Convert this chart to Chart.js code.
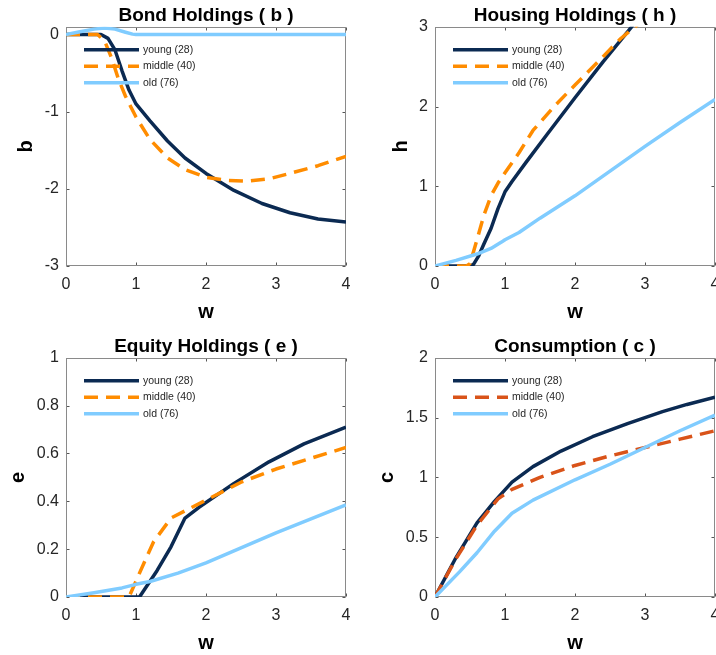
<!DOCTYPE html>
<html>
<head>
<meta charset="utf-8">
<script src="https://cdn.jsdelivr.net/npm/chart.js@4.4.1/dist/chart.umd.min.js"></script>
<style>
  html, body { margin: 0; padding: 0; background: #fff; overflow: hidden; width: 716px; height: 655px; }
  canvas { position: absolute; }
</style>
</head>
<body>
<canvas id="bondChart" width="370" height="330" style="left:0px;top:0px"></canvas>
<canvas id="housingChart" width="370" height="330" style="left:369px;top:0px"></canvas>
<canvas id="equityChart" width="370" height="330" style="left:0px;top:331px"></canvas>
<canvas id="consChart" width="370" height="330" style="left:369px;top:331px"></canvas>
<script>
// labels
let $groups = ['young (28)', 'middle (40)', 'old (76)'];
let $xTicks = [0, 1, 2, 3, 4];

// bond holdings b
let $bondYoungW = [0, 0.25, 0.5, 0.6, 0.7, 0.8, 0.9, 1.0, 1.2, 1.45, 1.7, 2.0, 2.4, 2.8, 3.2, 3.6, 4.0];
let $bondYoung  = [0, 0, 0, -0.05, -0.2, -0.47, -0.72, -0.9, -1.12, -1.38, -1.6, -1.8, -2.02, -2.19, -2.31, -2.39, -2.43];
let $bondMidW = [0, 0.45, 0.55, 0.65, 0.75, 0.85, 1.0, 1.2, 1.45, 1.7, 2.0, 2.3, 2.6, 2.9, 3.2, 3.6, 4.0];
let $bondMid  = [0, 0, -0.08, -0.3, -0.58, -0.8, -1.07, -1.36, -1.6, -1.75, -1.85, -1.89, -1.9, -1.87, -1.8, -1.7, -1.58];
let $bondOldW = [0, 0.2, 0.4, 0.55, 0.7, 0.85, 0.95, 1.0, 4.0];
let $bondOld  = [0, 0.035, 0.07, 0.085, 0.07, 0.03, 0.005, 0, 0];
let $bondTicks = [-3, -2, -1, 0];

// housing holdings h
let $houseYoungW = [0, 0.5, 0.55, 0.62, 0.7, 0.8, 0.9, 1.0, 1.1, 1.3, 1.6, 2.0, 2.4, 2.8, 3.0];
let $houseYoung  = [0, 0, 0.02, 0.12, 0.28, 0.47, 0.72, 0.93, 1.06, 1.3, 1.65, 2.11, 2.56, 2.99, 3.22];
let $houseMidW = [0, 0.45, 0.5, 0.6, 0.7, 0.8, 0.9, 1.0, 1.2, 1.4, 1.7, 2.0, 2.35, 2.65, 2.9, 3.0];
let $houseMid  = [0, 0, 0.03, 0.33, 0.64, 0.88, 1.04, 1.17, 1.42, 1.7, 2.0, 2.27, 2.58, 2.85, 3.03, 3.1];
let $houseOldW = [0, 0.3, 0.6, 0.8, 0.95, 1.0, 1.2, 1.5, 2.0, 2.5, 3.0, 3.5, 4.0];
let $houseOld  = [0, 0.07, 0.15, 0.22, 0.3, 0.33, 0.42, 0.6, 0.88, 1.19, 1.5, 1.8, 2.09];
let $houseTicks = [0, 1, 2, 3];

// equity holdings e
let $eqYoungW = [0, 1.05, 1.3, 1.5, 1.7, 1.9, 2.4, 2.9, 3.4, 4.0];
let $eqYoung  = [0, 0, 0.11, 0.21, 0.33, 0.375, 0.475, 0.565, 0.64, 0.71];
let $eqMidW = [0, 0.9, 1.05, 1.25, 1.5, 1.7, 2.0, 2.5, 3.0, 3.5, 4.0];
let $eqMid  = [0, 0, 0.1, 0.23, 0.33, 0.36, 0.405, 0.48, 0.535, 0.58, 0.625];
let $eqOldW = [0, 0.4, 0.8, 1.0, 1.2, 1.6, 2.0, 2.5, 3.0, 3.5, 4.0];
let $eqOld  = [0, 0.018, 0.038, 0.053, 0.065, 0.1, 0.143, 0.205, 0.268, 0.327, 0.385];
let $eqTicks = [0, 0.2, 0.4, 0.6, 0.8, 1];

// consumption c
let $consYoungW = [0, 0.3, 0.6, 0.85, 1.1, 1.4, 1.8, 2.25, 2.75, 3.25, 3.6, 4.0];
let $consYoung  = [0, 0.33, 0.62, 0.8, 0.96, 1.09, 1.22, 1.34, 1.45, 1.55, 1.61, 1.67];
let $consMidW = [0, 0.3, 0.6, 0.9, 1.1, 1.5, 2.0, 2.5, 3.0, 3.5, 4.0];
let $consMid  = [0, 0.32, 0.6, 0.82, 0.9, 1.0, 1.1, 1.18, 1.25, 1.32, 1.39];
let $consOldW = [0, 0.35, 0.6, 0.85, 1.1, 1.4, 2.0, 2.5, 3.0, 3.5, 4.0];
let $consOld  = [0, 0.21, 0.37, 0.55, 0.7, 0.81, 0.98, 1.11, 1.25, 1.39, 1.52];
let $consTicks = [0, 0.5, 1, 1.5, 2];

const $font = '"Liberation Sans", Arial, Helvetica, sans-serif';
const $navy = '#0b2a52';
const $orange = '#ff8c00';
const $red = '#d95319';
const $sky = '#80ccff';

function pts($w, $v) {
    return $w.map(function($x, $i) { return {x: $x, y: $v[$i]}; });
}

// box, inward ticks and legend like matlab
const matlabAxes = {
    id: 'matlabAxes',
    beforeDatasetsDraw(chart) {
        const {ctx, chartArea: a, scales} = chart;
        const l = Math.round(a.left) + 0.5, r = Math.round(a.right) - 0.5;
        const t = Math.round(a.top) + 0.5, b = Math.round(a.bottom) - 0.5;
        ctx.save();
        ctx.lineWidth = 1;
        ctx.strokeStyle = '#555';
        ctx.beginPath();
        scales.x.ticks.forEach(function($t) {
            const px = Math.round(scales.x.getPixelForValue($t.value)) + 0.5;
            ctx.moveTo(px, b); ctx.lineTo(px, b - 3);
            ctx.moveTo(px, t); ctx.lineTo(px, t + 3);
        });
        scales.y.ticks.forEach(function($t) {
            const py = Math.round(scales.y.getPixelForValue($t.value)) + 0.5;
            ctx.moveTo(l, py); ctx.lineTo(l + 3, py);
            ctx.moveTo(r, py); ctx.lineTo(r - 3, py);
        });
        ctx.stroke();
        ctx.strokeStyle = '#8a8a8a';
        ctx.strokeRect(l, t, r - l, b - t);
        ctx.restore();
    },
    afterDatasetsDraw(chart) {
        const {ctx, chartArea: a} = chart;
        ctx.save();
        ctx.font = '10.5px ' + $font;
        ctx.textBaseline = 'middle';
        ctx.fillStyle = '#262626';
        $groups.forEach(function($g, $i) {
            const ds = chart.data.datasets.find(function(d) { return d.label === $g; });
            const y = a.top + 23 + $i * 16.5;
            ctx.beginPath();
            ctx.strokeStyle = ds.borderColor;
            ctx.lineWidth = ds.borderWidth;
            ctx.setLineDash(ds.borderDash || []);
            ctx.moveTo(a.left + 18, y);
            ctx.lineTo(a.left + 73, y);
            ctx.stroke();
            ctx.setLineDash([]);
            ctx.fillText($g, a.left + 77, y);
        });
        ctx.restore();
    }
};

function makeChart($id, $title, $yLabel, $yMin, $yMax, $yTicks, $series, $midColor, $yTitlePad) {
    let $ctx = document.getElementById($id);
    return new Chart($ctx, {
        type: 'line',
        data: {
            datasets: [
                {label: $groups[2], data: pts($series[4], $series[5]), borderColor: $sky, borderWidth: 3.5},
                {label: $groups[1], data: pts($series[2], $series[3]), borderColor: $midColor, borderWidth: 3.5, borderDash: [14, 8]},
                {label: $groups[0], data: pts($series[0], $series[1]), borderColor: $navy, borderWidth: 3.5}
            ]
        },
        options: {
            responsive: false,
            animation: false,
            parsing: false,
            layout: {padding: {left: 0, right: 24, top: 0, bottom: 0}},
            elements: {
                point: {radius: 0},
                line: {tension: 0, borderCapStyle: 'butt', borderJoinStyle: 'round'}
            },
            plugins: {
                legend: {display: false},
                tooltip: {enabled: false},
                title: {
                    display: true,
                    fullSize: false,
                    text: $title,
                    color: '#000',
                    font: {family: $font, size: 19, weight: 'bold'},
                    padding: {top: 4, bottom: 0}
                }
            },
            scales: {
                x: {
                    type: 'linear',
                    min: 0,
                    max: 4,
                    afterBuildTicks: function(s) { s.ticks = $xTicks.map(function(v) { return {value: v}; }); },
                    afterFit: function(s) { s.height = 64; },
                    grid: {display: false, drawTicks: false},
                    border: {display: false},
                    ticks: {color: '#262626', font: {family: $font, size: 16}, padding: 9, maxRotation: 0, autoSkip: false},
                    title: {display: true, text: 'w', color: '#000', font: {family: $font, size: 20, weight: 'bold'}, padding: {top: 0, bottom: 6}}
                },
                y: {
                    type: 'linear',
                    min: $yMin,
                    max: $yMax,
                    afterBuildTicks: function(s) { s.ticks = $yTicks.map(function(v) { return {value: v}; }); },
                    afterFit: function(s) { s.width = 66; },
                    grid: {display: false, drawTicks: false},
                    border: {display: false},
                    ticks: {color: '#262626', font: {family: $font, size: 16}, padding: 7, autoSkip: false,
                        callback: function(v) { return String(v); }},
                    title: {display: true, text: $yLabel, color: '#000', font: {family: $font, size: 20, weight: 'bold'}, padding: {top: $yTitlePad, bottom: 0}}
                }
            }
        },
        plugins: [matlabAxes]
    });
}

makeChart('bondChart', 'Bond Holdings ( b )', 'b', -3, 0.1, $bondTicks,
    [$bondYoungW, $bondYoung, $bondMidW, $bondMid, $bondOldW, $bondOld], $orange, 14);
makeChart('housingChart', 'Housing Holdings ( h )', 'h', 0, 3, $houseTicks,
    [$houseYoungW, $houseYoung, $houseMidW, $houseMid, $houseOldW, $houseOld], $orange, 20);
makeChart('equityChart', 'Equity Holdings ( e )', 'e', 0, 1, $eqTicks,
    [$eqYoungW, $eqYoung, $eqMidW, $eqMid, $eqOldW, $eqOld], $orange, 6.5);
makeChart('consChart', 'Consumption ( c )', 'c', 0, 2, $consTicks,
    [$consYoungW, $consYoung, $consMidW, $consMid, $consOldW, $consOld], $red, 6.5);
</script>
</body>
</html>
